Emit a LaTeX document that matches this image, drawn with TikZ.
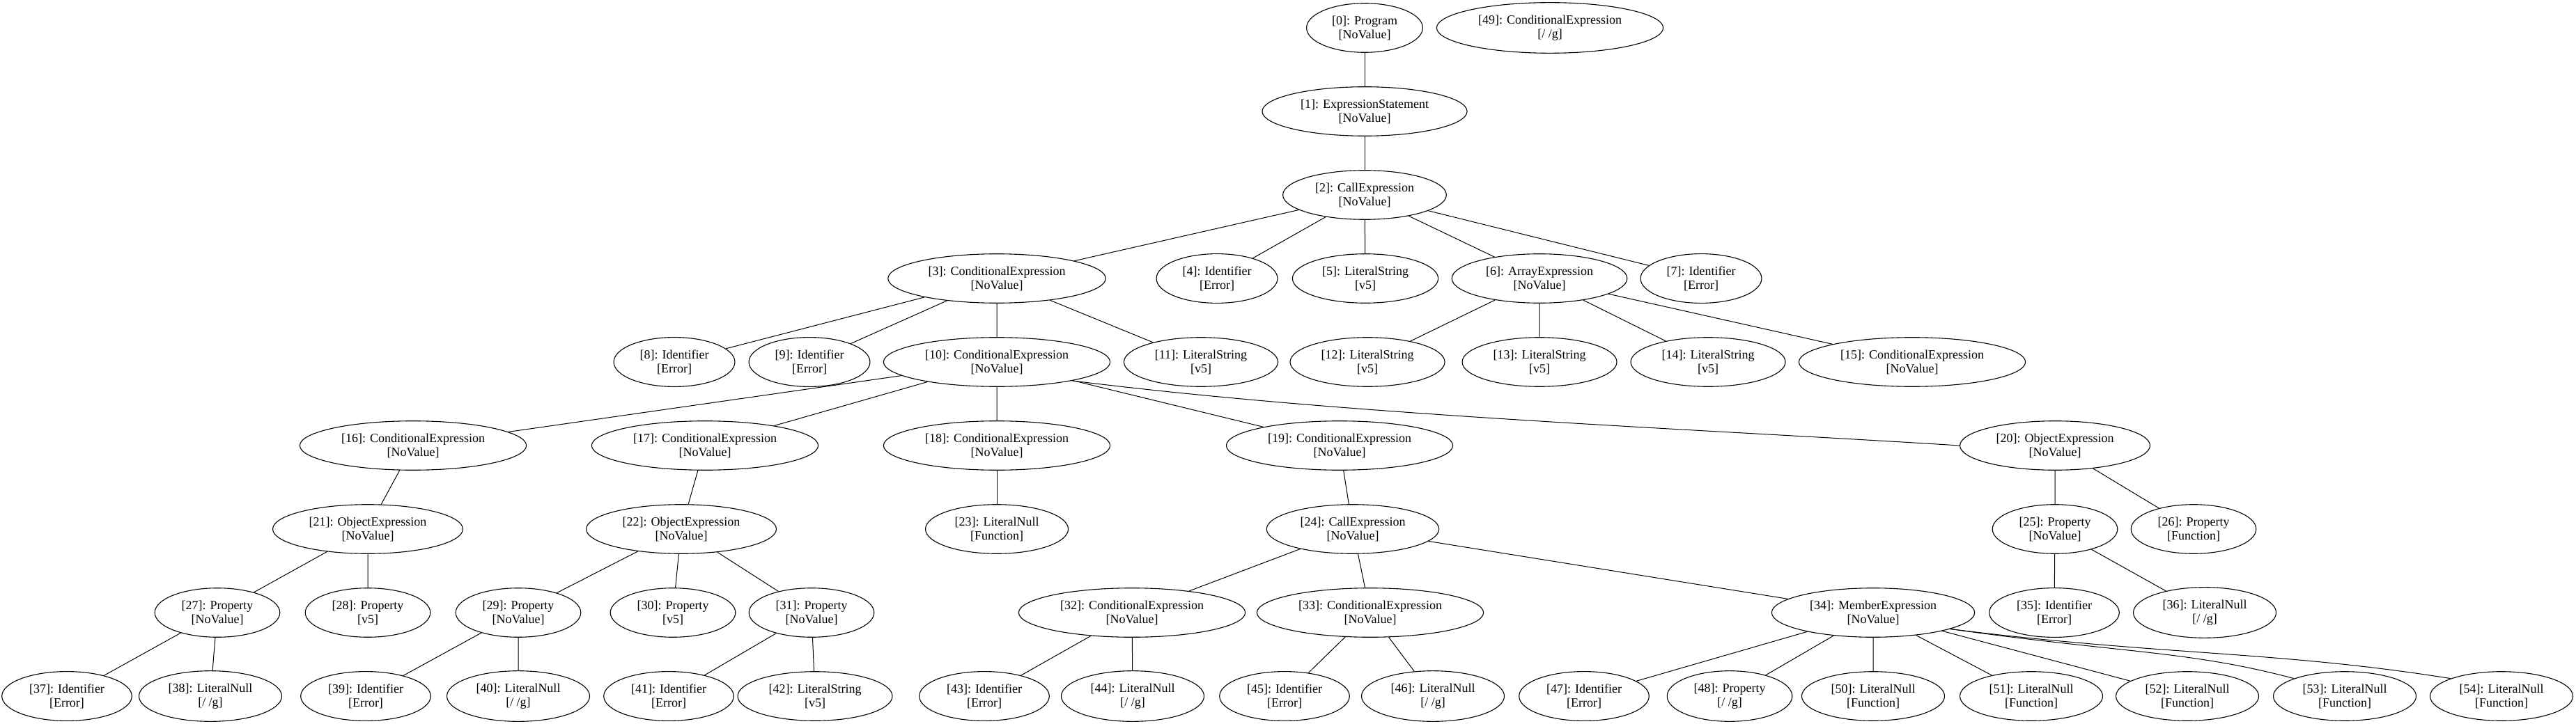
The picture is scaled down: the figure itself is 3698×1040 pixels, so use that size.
\documentclass[tikz,border=0pt]{standalone}
\usepackage{fontspec}
\setmainfont{Liberation Serif}
\usetikzlibrary{shapes.geometric}

\begin{document}
\begin{tikzpicture}[
      x=1pt,y=-1pt,
      ast/.style={draw,ellipse,line width=1.1pt,align=center,inner xsep=12pt,inner ysep=7.5pt,
        font=\fontsize{18}{20}\selectfont},
      edge/.style={line width=1pt},
    ]
        \useasboundingbox (0,0) rectangle (3698,1040);
        \node[ast] (n0)  at (1959,40) {[0]: Program\\{}[NoValue]};
        \node[ast] (n49) at (2225,40) {[49]: ConditionalExpression\\{}[/ /g]};
        \node[ast] (n1)  at (1959,160) {[1]: ExpressionStatement\\{}[NoValue]};
        \node[ast] (n2)  at (1959,280) {[2]: CallExpression\\{}[NoValue]};
        \node[ast] (n3)  at (1431,400) {[3]: ConditionalExpression\\{}[NoValue]};
        \node[ast] (n4)  at (1747,400) {[4]: Identifier\\{}[Error]};
        \node[ast] (n5)  at (1960,400) {[5]: LiteralString\\{}[v5]};
        \node[ast] (n6)  at (2210,400) {[6]: ArrayExpression\\{}[NoValue]};
        \node[ast] (n7)  at (2442,400) {[7]: Identifier\\{}[Error]};
        \node[ast] (n8)  at (968,520)  {[8]: Identifier\\{}[Error]};
        \node[ast] (n9)  at (1162,520) {[9]: Identifier\\{}[Error]};
        \node[ast] (n10) at (1431,520) {[10]: ConditionalExpression\\{}[NoValue]};
        \node[ast] (n11) at (1724,520) {[11]: LiteralString\\{}[v5]};
        \node[ast] (n12) at (1963,520) {[12]: LiteralString\\{}[v5]};
        \node[ast] (n13) at (2210,520) {[13]: LiteralString\\{}[v5]};
        \node[ast] (n14) at (2452,520) {[14]: LiteralString\\{}[v5]};
        \node[ast] (n15) at (2745,520) {[15]: ConditionalExpression\\{}[NoValue]};
        \node[ast] (n16) at (593,640)  {[16]: ConditionalExpression\\{}[NoValue]};
        \node[ast] (n17) at (1012,640) {[17]: ConditionalExpression\\{}[NoValue]};
        \node[ast] (n18) at (1431,640) {[18]: ConditionalExpression\\{}[NoValue]};
        \node[ast] (n19) at (1923,640) {[19]: ConditionalExpression\\{}[NoValue]};
        \node[ast] (n20) at (2950,640) {[20]: ObjectExpression\\{}[NoValue]};
        \node[ast] (n21) at (528,760)  {[21]: ObjectExpression\\{}[NoValue]};
        \node[ast] (n22) at (978,760)  {[22]: ObjectExpression\\{}[NoValue]};
        \node[ast] (n23) at (1431,760) {[23]: LiteralNull\\{}[Function]};
        \node[ast] (n24) at (1942,760) {[24]: CallExpression\\{}[NoValue]};
        \node[ast] (n25) at (2950,760) {[25]: Property\\{}[NoValue]};
        \node[ast] (n26) at (3149,760) {[26]: Property\\{}[Function]};
        \node[ast] (n27) at (312,880)  {[27]: Property\\{}[NoValue]};
        \node[ast] (n28) at (528,880)  {[28]: Property\\{}[v5]};
        \node[ast] (n29) at (744,880)  {[29]: Property\\{}[NoValue]};
        \node[ast] (n30) at (966,880)  {[30]: Property\\{}[v5]};
        \node[ast] (n31) at (1165,880) {[31]: Property\\{}[NoValue]};
        \node[ast] (n32) at (1625,880) {[32]: ConditionalExpression\\{}[NoValue]};
        \node[ast] (n33) at (1967,880) {[33]: ConditionalExpression\\{}[NoValue]};
        \node[ast] (n34) at (2689,880) {[34]: MemberExpression\\{}[NoValue]};
        \node[ast] (n35) at (2949,880) {[35]: Identifier\\{}[Error]};
        \node[ast] (n36) at (3165,880) {[36]: LiteralNull\\{}[/ /g]};
        \node[ast] (n37) at (96,1000)   {[37]: Identifier\\{}[Error]};
        \node[ast] (n38) at (302,1000)  {[38]: LiteralNull\\{}[/ /g]};
        \node[ast] (n39) at (525,1000)  {[39]: Identifier\\{}[Error]};
        \node[ast] (n40) at (744,1000)  {[40]: LiteralNull\\{}[/ /g]};
        \node[ast] (n41) at (960,1000)  {[41]: Identifier\\{}[Error]};
        \node[ast] (n42) at (1170,1000) {[42]: LiteralString\\{}[v5]};
        \node[ast] (n43) at (1413,1000) {[43]: Identifier\\{}[Error]};
        \node[ast] (n44) at (1626,1000) {[44]: LiteralNull\\{}[/ /g]};
        \node[ast] (n45) at (1844,1000) {[45]: Identifier\\{}[Error]};
        \node[ast] (n46) at (2057,1000) {[46]: LiteralNull\\{}[/ /g]};
        \node[ast] (n47) at (2274,1000) {[47]: Identifier\\{}[Error]};
        \node[ast] (n48) at (2483,1000) {[48]: Property\\{}[/ /g]};
        \node[ast] (n50) at (2689,1000) {[50]: LiteralNull\\{}[Function]};
        \node[ast] (n51) at (2916,1000) {[51]: LiteralNull\\{}[Function]};
        \node[ast] (n52) at (3140,1000) {[52]: LiteralNull\\{}[Function]};
        \node[ast] (n53) at (3366,1000) {[53]: LiteralNull\\{}[Function]};
        \node[ast] (n54) at (3591,1000) {[54]: LiteralNull\\{}[Function]};

        \draw[edge] (n0) -- (n1);
        \draw[edge] (n1) -- (n2);
        \draw[edge] (n2) -- (n3) (n2) -- (n4) (n2) -- (n5) (n2) -- (n6) (n2) -- (n7);
        \draw[edge] (n3) -- (n8) (n3) -- (n9) (n3) -- (n10) (n3) -- (n11);
        \draw[edge] (n6) -- (n12) (n6) -- (n13) (n6) -- (n14) (n6) -- (n15);
        \draw[edge] (n10) -- (n16) (n10) -- (n17) (n10) -- (n18) (n10) -- (n19);
        \draw[edge] (n10.-14) .. controls +(400,50) and +(-400,-25) .. (n20.west);
        \draw[edge] (n16) -- (n21);
        \draw[edge] (n17) -- (n22);
        \draw[edge] (n18) -- (n23);
        \draw[edge] (n19) -- (n24);
        \draw[edge] (n20) -- (n25) (n20) -- (n26);
        \draw[edge] (n21) -- (n27) (n21) -- (n28);
        \draw[edge] (n22) -- (n29) (n22) -- (n30) (n22) -- (n31);
        \draw[edge] (n24) -- (n32) (n24) -- (n33) (n24) -- (n34);
        \draw[edge] (n25) -- (n35) (n25) -- (n36);
        \draw[edge] (n27) -- (n37) (n27) -- (n38);
        \draw[edge] (n29) -- (n39) (n29) -- (n40);
        \draw[edge] (n31) -- (n41) (n31) -- (n42);
        \draw[edge] (n32) -- (n43) (n32) -- (n44);
        \draw[edge] (n33) -- (n45) (n33) -- (n46);
        \draw[edge] (n34) -- (n47) (n34) -- (n48) (n34) -- (n50) (n34) -- (n51) (n34) -- (n52);
        \draw[edge] (n34.-12) .. controls +(250,35) and +(-150,-40) .. (n53.north west);
        \draw[edge] (n34.-12) .. controls +(300,38) and +(-250,-40) .. (n54.north west);
    \end{tikzpicture}
\end{document}
